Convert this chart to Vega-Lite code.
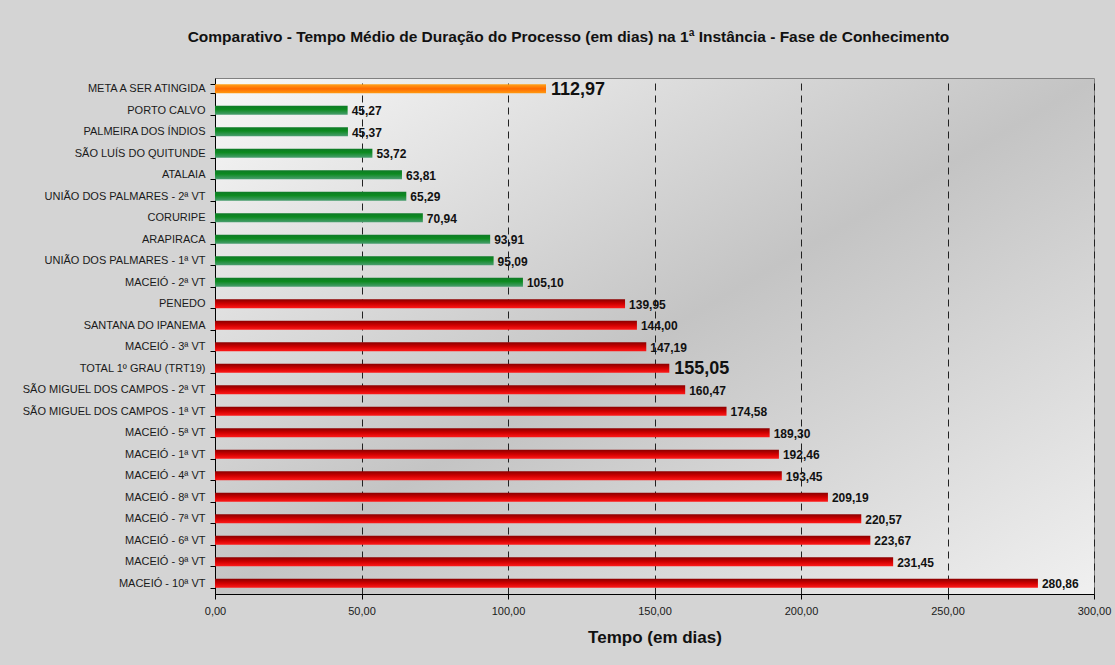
{
  "$schema": "https://vega.github.io/schema/vega-lite/v6.json",
  "width": 879,
  "height": 516,
  "autosize": "none",
  "padding": {"left": 215, "top": 78, "right": 21, "bottom": 71},
  "background": "#d4d4d4",
  "view": {
    "fill": {"gradient": "linear", "x1": 0, "y1": 0, "x2": 1, "y2": 1,
      "stops": [{"offset": 0, "color": "#f8f8f8"}, {"offset": 0.5, "color": "#c4c4c4"}, {"offset": 1, "color": "#f0f0f0"}]},
    "stroke": "#808080",
    "strokeWidth": 1
  },
  "config": {
    "locale": {"number": {"decimal": ",", "thousands": ".", "grouping": [3], "currency": ["R$", ""]}},
    "font": "Liberation Sans"
  },
  "title": {
    "text": "Comparativo - Tempo Médio de Duração do Processo (em dias) na 1ª Instância - Fase de Conhecimento",
    "fontSize": 15.5,
    "fontWeight": "bold",
    "font": "Liberation Sans",
    "color": "#111111",
    "anchor": "middle",
    "dx": -86,
    "offset": 27
  },
  "data": {
    "values": [
      {"nome": "META A SER ATINGIDA", "dias": 112.97, "grupo": "meta"},
      {"nome": "PORTO CALVO", "dias": 45.27, "grupo": "verde"},
      {"nome": "PALMEIRA DOS ÍNDIOS", "dias": 45.37, "grupo": "verde"},
      {"nome": "SÃO LUÍS DO QUITUNDE", "dias": 53.72, "grupo": "verde"},
      {"nome": "ATALAIA", "dias": 63.81, "grupo": "verde"},
      {"nome": "UNIÃO DOS PALMARES - 2ª VT", "dias": 65.29, "grupo": "verde"},
      {"nome": "CORURIPE", "dias": 70.94, "grupo": "verde"},
      {"nome": "ARAPIRACA", "dias": 93.91, "grupo": "verde"},
      {"nome": "UNIÃO DOS PALMARES - 1ª VT", "dias": 95.09, "grupo": "verde"},
      {"nome": "MACEIÓ - 2ª VT", "dias": 105.10, "grupo": "verde"},
      {"nome": "PENEDO", "dias": 139.95, "grupo": "vermelho"},
      {"nome": "SANTANA DO IPANEMA", "dias": 144.00, "grupo": "vermelho"},
      {"nome": "MACEIÓ - 3ª VT", "dias": 147.19, "grupo": "vermelho"},
      {"nome": "TOTAL 1º GRAU (TRT19)", "dias": 155.05, "grupo": "total"},
      {"nome": "SÃO MIGUEL DOS CAMPOS - 2ª VT", "dias": 160.47, "grupo": "vermelho"},
      {"nome": "SÃO MIGUEL DOS CAMPOS - 1ª VT", "dias": 174.58, "grupo": "vermelho"},
      {"nome": "MACEIÓ - 5ª VT", "dias": 189.30, "grupo": "vermelho"},
      {"nome": "MACEIÓ - 1ª VT", "dias": 192.46, "grupo": "vermelho"},
      {"nome": "MACEIÓ - 4ª VT", "dias": 193.45, "grupo": "vermelho"},
      {"nome": "MACEIÓ - 8ª VT", "dias": 209.19, "grupo": "vermelho"},
      {"nome": "MACEIÓ - 7ª VT", "dias": 220.57, "grupo": "vermelho"},
      {"nome": "MACEIÓ - 6ª VT", "dias": 223.67, "grupo": "vermelho"},
      {"nome": "MACEIÓ - 9ª VT", "dias": 231.45, "grupo": "vermelho"},
      {"nome": "MACEIÓ - 10ª VT", "dias": 280.86, "grupo": "vermelho"}
    ]
  },
  "encoding": {
    "y": {
      "field": "nome", "type": "nominal", "sort": null,
      "scale": {"paddingInner": 0.58, "paddingOuter": 0.29},
      "axis": {
        "title": null,
        "domainColor": "#000000",
        "tickColor": "#000000",
        "tickSize": 5,
        "tickBand": "extent",
        "labelFont": "Liberation Sans",
        "labelFontSize": 11,
        "labelColor": "#1a1a1a",
        "labelPadding": 5,
        "labelLimit": 220
      }
    },
    "x": {
      "field": "dias", "type": "quantitative",
      "scale": {"domain": [0, 300], "nice": false},
      "axis": {
        "title": "Tempo (em dias)",
        "titleFont": "Liberation Sans",
        "titleFontSize": 17,
        "titleFontWeight": "bold",
        "titleColor": "#111111",
        "titlePadding": 13,
        "values": [0, 50, 100, 150, 200, 250, 300],
        "format": ".2f",
        "labelFont": "Liberation Sans",
        "labelFontSize": 11,
        "labelColor": "#1a1a1a",
        "labelPadding": 6,
        "labelFlush": false,
        "tickSize": 5,
        "tickColor": "#000000",
        "domainColor": "#000000",
        "grid": true,
        "gridColor": "#222222",
        "gridDash": [7, 5],
        "gridWidth": 1
      }
    }
  },
  "layer": [
    {
      "transform": [{"filter": "datum.grupo === 'meta'"}],
      "mark": {"type": "bar", "color": {"gradient": "linear", "x1": 0, "y1": 0, "x2": 0, "y2": 1,
        "stops": [{"offset": 0, "color": "#ffa31a"}, {"offset": 0.5, "color": "#ff6a00"}, {"offset": 1, "color": "#ff9a10"}]}}
    },
    {
      "transform": [{"filter": "datum.grupo === 'verde'"}],
      "mark": {"type": "bar", "color": {"gradient": "linear", "x1": 0, "y1": 0, "x2": 0, "y2": 1,
        "stops": [{"offset": 0, "color": "#0f7a28"}, {"offset": 0.4, "color": "#0c8a1f"}, {"offset": 1, "color": "#4a9e70"}]}}
    },
    {
      "transform": [{"filter": "datum.grupo === 'vermelho' || datum.grupo === 'total'"}],
      "mark": {"type": "bar", "color": {"gradient": "linear", "x1": 0, "y1": 0, "x2": 0, "y2": 1,
        "stops": [{"offset": 0, "color": "#8a0000"}, {"offset": 0.5, "color": "#d00000"}, {"offset": 1, "color": "#ff1a1a"}]}}
    },
    {
      "transform": [{"filter": "datum.grupo !== 'meta' && datum.grupo !== 'total'"}],
      "mark": {"type": "text", "align": "left", "baseline": "middle", "dx": 4, "dy": 1, "fontSize": 12, "fontWeight": "bold", "font": "Liberation Sans", "color": "#111111"},
      "encoding": {"text": {"field": "dias", "type": "quantitative", "format": ".2f"}}
    },
    {
      "transform": [{"filter": "datum.grupo === 'meta' || datum.grupo === 'total'"}],
      "mark": {"type": "text", "align": "left", "baseline": "middle", "dx": 5, "dy": 1, "fontSize": 18, "fontWeight": "bold", "font": "Liberation Sans", "color": "#111111"},
      "encoding": {"text": {"field": "dias", "type": "quantitative", "format": ".2f"}}
    }
  ]
}
